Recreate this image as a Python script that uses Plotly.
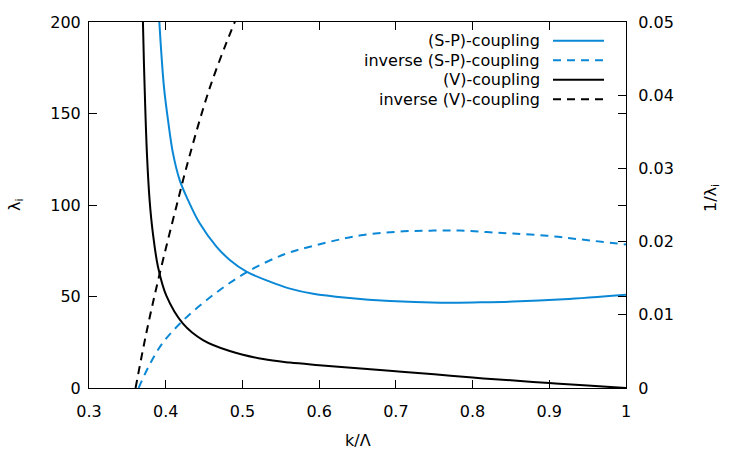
import plotly.graph_objects as go

# ---- data ----
k_sp = [0.3880, 0.3917, 0.3943, 0.3977, 0.4030, 0.4095, 0.4182, 0.4291, 0.4443, 0.4661,
        0.4835, 0.5053, 0.5357, 0.5619, 0.5923, 0.636, 0.6925, 0.758, 0.81, 0.853, 0.9188, 1.0]
lam_sp = [230, 200, 182.9, 164.6, 146.4, 128.2, 113.6, 102.7, 90.0, 77.3,
          70.0, 63.6, 58.1, 54.3, 51.5, 49.3, 47.5, 46.6, 46.8, 47.2, 48.5, 51.0]

k_sp_inv = [0.3647, 0.379, 0.3964, 0.4225, 0.4617, 0.5053, 0.553, 0.588, 0.623, 0.6576,
            0.7098, 0.749, 0.7839, 0.8187, 0.853, 0.8971, 0.9406, 1.0]
inv_sp = [0.0, 0.0032, 0.0062, 0.0092, 0.0127, 0.0158, 0.0182, 0.0193, 0.0202, 0.0209,
          0.0214, 0.0215, 0.0215, 0.0213, 0.0211, 0.0208, 0.0203, 0.0196]

k_v = [0.3660, 0.3703, 0.3725, 0.3755, 0.3790, 0.3833, 0.3899, 0.4008, 0.4225, 0.4486,
       0.4835, 0.527, 0.5619, 0.6, 0.65, 0.7, 0.75, 0.8, 0.85, 0.9, 0.95, 1.0]
lam_v = [300, 200, 164.6, 128.2, 102.7, 84.5, 66.3, 50.5, 35.2, 26.2,
         20.2, 15.8, 13.9, 12.5, 10.8, 9.1, 7.5, 5.7, 4.2, 2.7, 1.3, 0.0]

k_v_inv = [0.3607, 0.3747, 0.3912, 0.4139, 0.4313, 0.4574, 0.4857, 0.4950]
inv_v = [0.0, 0.0075, 0.0152, 0.0248, 0.0318, 0.0410, 0.0489, 0.0512]

legend_labels = ["(S-P)-coupling", "inverse (S-P)-coupling", "(V)-coupling", "inverse (V)-coupling"]

BLUE = "#0a88d6"
BLACK = "#000000"
FONT = "DejaVu Sans"
FS = 16

W, H = 750, 450
L, R, T, B = 89, 124, 22, 62
pw, ph = W - L - R, H - T - B


def px_x(p):
    return (p - L) / pw


def px_y(p):
    return (H - B - p) / ph


SM = 1.0
fig = go.Figure()
fig.add_trace(go.Scatter(x=k_sp, y=lam_sp, mode="lines",
                         line=dict(color=BLUE, width=2, shape="spline", smoothing=SM), showlegend=False))
fig.add_trace(go.Scatter(x=k_sp_inv, y=inv_sp, mode="lines", yaxis="y2",
                         line=dict(color=BLUE, width=2, dash="8px,6px", shape="spline", smoothing=SM),
                         showlegend=False))
fig.add_trace(go.Scatter(x=k_v, y=lam_v, mode="lines",
                         line=dict(color=BLACK, width=2, shape="spline", smoothing=SM), showlegend=False))
fig.add_trace(go.Scatter(x=k_v_inv, y=inv_v, mode="lines", yaxis="y2",
                         line=dict(color=BLACK, width=2, dash="8px,6px", shape="spline", smoothing=SM),
                         showlegend=False))

axis_common = dict(showgrid=False, zeroline=False, showline=True, linecolor="black", linewidth=1,
                   ticks="inside", ticklen=8, tickcolor="black", tickwidth=1,
                   tickfont=dict(family=FONT, size=FS, color="black"))

fig.update_layout(
    width=W, height=H,
    margin=dict(l=L, r=R, t=T, b=B),
    plot_bgcolor="white", paper_bgcolor="white",
    font=dict(family=FONT, size=FS, color="black"),
    xaxis=dict(range=[0.3, 1.0], dtick=0.1, tick0=0.3, mirror="ticks", ticklabelstandoff=9, **axis_common),
    yaxis=dict(range=[0, 200], dtick=50, mirror="ticks", ticklabelstandoff=4, **axis_common),
    yaxis2=dict(range=[0, 0.05], dtick=0.01, overlaying="y", side="right", ticklabelstandoff=8, **axis_common),
    showlegend=False,
)

ann = [
    dict(text="λ<sub>i</sub>", x=px_x(15), y=px_y(205), textangle=-90),
    dict(text="1/λ<sub>i</sub>", x=px_x(711), y=px_y(198), textangle=-90),
    dict(text="k/Λ", x=px_x(357.5), y=px_y(440)),
]
annotations = []
for a in ann:
    annotations.append(dict(xref="paper", yref="paper", showarrow=False, xanchor="center", yanchor="middle",
                            borderpad=0, font=dict(family=FONT, size=FS, color="black"), **a))

row_y = [40.7, 60.2, 79.8, 99.3]
styles = [(BLUE, "solid"), (BLUE, "dash"), (BLACK, "solid"), (BLACK, "dash")]
shapes = []
for lab, yy, (col, ds) in zip(legend_labels, row_y, styles):
    annotations.append(dict(xref="paper", yref="paper", showarrow=False, text=lab, x=px_x(542), y=px_y(yy),
                            xanchor="right", yanchor="middle", font=dict(family=FONT, size=FS, color="black")))
    shapes.append(dict(type="line", xref="paper", yref="paper", x0=px_x(553), x1=px_x(604),
                       y0=px_y(yy), y1=px_y(yy),
                       line=dict(color=col, width=2, dash=("8px,6px" if ds == "dash" else "solid"))))

fig.update_layout(annotations=annotations, shapes=shapes)
fig.write_html("out.html")
